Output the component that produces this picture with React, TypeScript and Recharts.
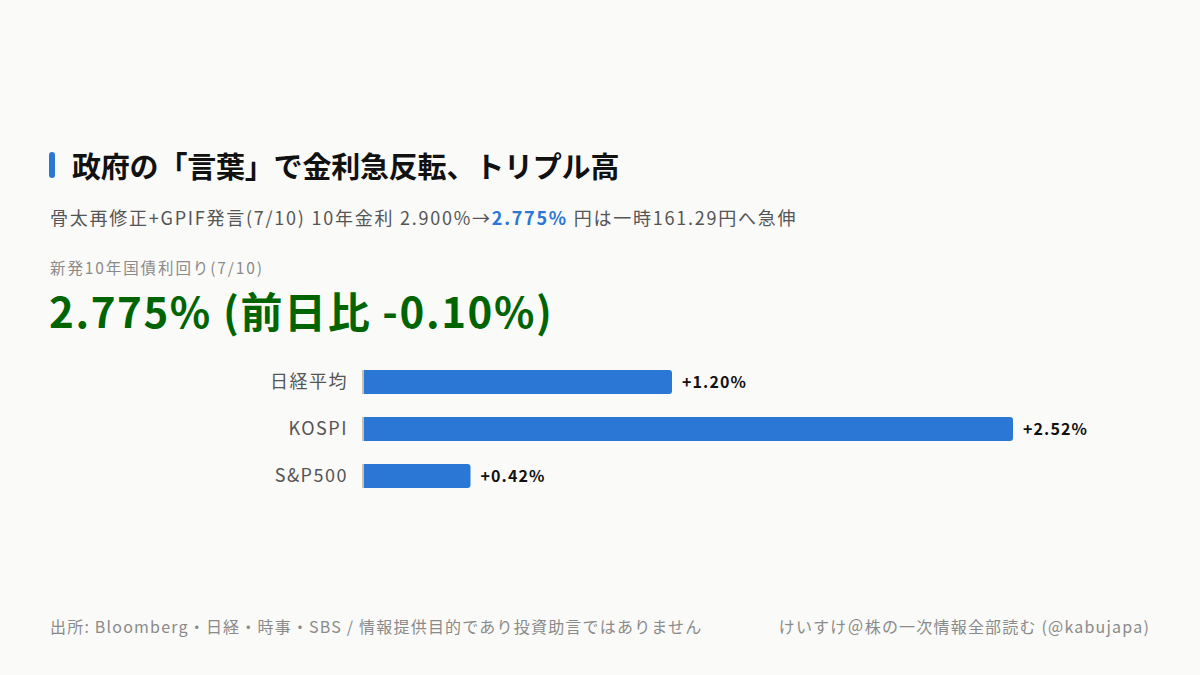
import { Bar, BarChart, LabelList, XAxis, YAxis } from "recharts";

const categories: string[] = ["日経平均", "KOSPI", "S&P500"];
const changes: number[] = [1.2, 2.52, 0.42];
const valueLabels: string[] = ["+1.20%", "+2.52%", "+0.42%"];

const data = categories.map((name, i) => ({
  name,
  value: changes[i],
  label: valueLabels[i],
}));

const font = '"Noto Sans CJK JP", "Noto Sans", sans-serif';
const blue = "#2a77d5";

const BarShape = (props: any) => {
  const { x, y, width, height } = props;
  const r = 3;
  const w = Math.max(width - 2, 0);
  const x0 = x + 2;
  const d = `M${x0},${y} H${x0 + w - r} Q${x0 + w},${y} ${x0 + w},${y + r} V${y + height - r} Q${x0 + w},${y + height} ${x0 + w - r},${y + height} H${x0} Z`;
  return (
    <g>
      <rect x={x} y={y} width={2} height={height} fill="#c9c2b4" />
      <path d={d} fill={blue} />
    </g>
  );
};

const App = () => {
  return (
    <div
      style={{
        position: "absolute",
        left: 0,
        top: 0,
        width: 1200,
        height: 675,
        background: "#fafaf8",
        fontFamily: font,
        overflow: "hidden",
      }}
    >
      <div
        style={{
          position: "absolute",
          left: 49,
          top: 152,
          width: 6,
          height: 26,
          borderRadius: 3,
          background: blue,
        }}
      />
      <div
        style={{
          position: "absolute",
          left: 72,
          top: 145,
          fontSize: 29,
          fontWeight: 700,
          color: "#111",
          lineHeight: "40px",
          whiteSpace: "nowrap",
          letterSpacing: -0.2,
        }}
      >
        政府の「言葉」で金利急反転、トリプル高
      </div>
      <div
        style={{
          position: "absolute",
          left: 50,
          top: 203,
          fontSize: 18,
          color: "#555",
          lineHeight: "28px",
          whiteSpace: "nowrap",
          letterSpacing: 1.75,
        }}
      >
        骨太再修正+GPIF発言(7/10) 10年金利 2.900%→
        <span style={{ color: blue, fontWeight: 700 }}>2.775%</span> 円は一時161.29円へ急伸
      </div>
      <div
        style={{
          position: "absolute",
          left: 50,
          top: 256,
          fontSize: 15.5,
          color: "#8a8a8a",
          lineHeight: "22px",
          whiteSpace: "nowrap",
          letterSpacing: 1.9,
        }}
      >
        新発10年国債利回り(7/10)
      </div>
      <div
        style={{
          position: "absolute",
          left: 49,
          top: 282,
          fontSize: 42,
          fontWeight: 600,
          color: "#006400",
          lineHeight: "56px",
          whiteSpace: "nowrap",
          letterSpacing: 1.6,
        }}
      >
        2.775% (前日比 -0.10%)
      </div>

      <div style={{ position: "absolute", left: 0, top: 357.5 }}>
        <BarChart
          width={1200}
          height={141}
          data={data}
          layout="vertical"
          margin={{ top: 0, right: 63, bottom: 0, left: 0 }}
          barCategoryGap={23}
        >
          <XAxis type="number" domain={[0, 3]} hide />
          <YAxis
            type="category"
            dataKey="name"
            width={362}
            axisLine={false}
            tickLine={false}
            tickSize={0}
            tickMargin={14}
            tick={{ fill: "#555", fontSize: 18, fontFamily: font, letterSpacing: 1.5 }}
          />
          <Bar
            dataKey="value"
            barSize={24}
            shape={BarShape}
            isAnimationActive={false}
          >
            <LabelList
              dataKey="label"
              position="right"
              offset={10}
              style={{
                fill: "#111",
                fontSize: 16,
                fontWeight: 700,
                fontFamily: font,
                letterSpacing: 1.1,
              }}
            />
          </Bar>
        </BarChart>
      </div>

      <div
        style={{
          position: "absolute",
          left: 50,
          top: 614,
          fontSize: 16,
          color: "#8a8a8a",
          lineHeight: "24px",
          whiteSpace: "nowrap",
          letterSpacing: 1.2,
        }}
      >
        出所: Bloomberg・日経・時事・SBS / 情報提供目的であり投資助言ではありません
      </div>
      <div
        style={{
          position: "absolute",
          right: 50,
          top: 614,
          fontSize: 16,
          color: "#8a8a8a",
          lineHeight: "24px",
          whiteSpace: "nowrap",
          letterSpacing: 1.2,
        }}
      >
        けいすけ＠株の一次情報全部読む (@kabujapa)
      </div>
    </div>
  );
};

export default App;
